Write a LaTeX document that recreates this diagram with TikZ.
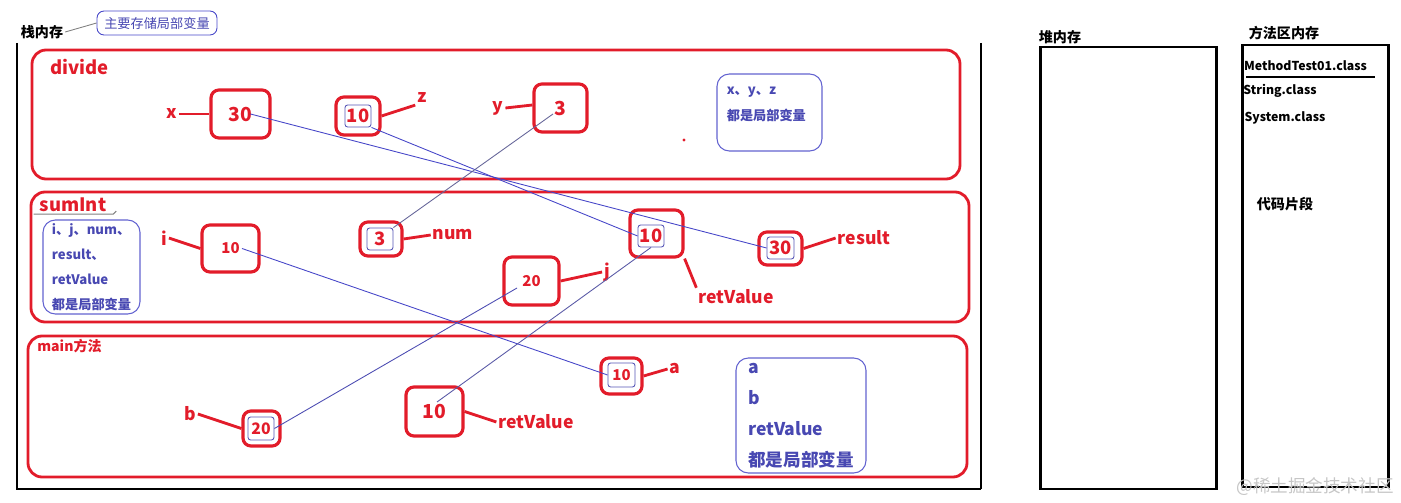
\documentclass[tikz,border=0pt]{standalone}
\usepackage{fontspec}
\setmainfont{Noto Sans CJK SC}
\usetikzlibrary{positioning}
\definecolor{memred}{RGB}{226,28,42}
\definecolor{refblue}{RGB}{70,70,200}
\definecolor{notetxt}{RGB}{72,72,178}

\begin{document}
\begin{tikzpicture}[
 x=0.02cm,y=-0.02cm,
 font=\bfseries,
 frame/.style={draw=memred,line width=1.6pt,rounded corners=8pt},
 mem/.style={draw=black,line width=1.7pt},
 cell/.style={draw=memred,line width=1.8pt,rounded corners=4.5pt,text=memred,inner sep=0pt,font=\bfseries\fontsize{11}{12}\selectfont},
 slot/.style={draw=refblue!75!gray,line width=0.5pt,rounded corners=1.5pt,inner sep=0pt,text=memred,font=\bfseries\fontsize{10.5}{12}\selectfont},
 lbl/.style={text=memred,font=\bfseries\fontsize{10}{12}\selectfont,inner sep=1pt},
 lead/.style={draw=memred,line width=1.6pt},
 ref/.style={draw=refblue,line width=0.5pt},
 vnote/.style={draw=refblue!85,line width=0.6pt,rounded corners=7pt},
 notetext/.style={text=notetxt,align=left,inner sep=0pt},
 memlbl/.style={font=\bfseries\fontsize{8}{10}\selectfont,inner sep=1pt},
 cls/.style={font=\bfseries\fontsize{7}{9}\selectfont,inner sep=1pt}
]
\useasboundingbox (0,0) rectangle (1401,503);

% stack memory
\node[memlbl] (stacklbl) at (42,32) {栈内存};
\node[draw=refblue,line width=0.5pt,rounded corners=4pt,minimum width=2.4cm,minimum height=0.44cm,text=notetxt,font=\fontsize{7.5}{9}\selectfont] (stacknote) at (157,23) {主要存储局部变量};
\draw[gray,line width=0.5pt] (stacklbl.east) -- (stacknote.west);
\draw[mem] (17,43) -- (17,489) -- (981,489);
\draw[black,line width=1.2pt] (981,43) -- (981,489);

% frames
\draw[frame] (32,50) rectangle (960,179);
\draw[frame] (31,192) rectangle (969,322);
\draw[frame] (28,336) rectangle (967,477);
\node[lbl,font=\bfseries\fontsize{10.5}{12}\selectfont] (dividelbl) at (79.5,67) {divide};
\node[lbl,font=\bfseries\fontsize{10.5}{12}\selectfont] (sumlbl) at (73,205) {sumInt};
\draw[gray,line width=0.6pt] ([xshift=-0.08cm]sumlbl.south west) -- ([xshift=0.1cm]sumlbl.south east) -- ++(0.06cm,0.06cm);
\node[lbl,font=\bfseries\fontsize{8}{10}\selectfont] (mainlbl) at (69.5,346) {main方法};

% divide
\node[cell,minimum width=1.18cm,minimum height=0.96cm] (xcell) at (240.5,114) {30};
\node[lbl] (xlbl) at (172,114) {x};
\node[cell,minimum width=0.88cm,minimum height=0.76cm] (zcell) at (358,116) {};
\node[slot,minimum width=0.52cm,minimum height=0.44cm] (zv) at (358,116) {10};
\node[lbl] (zlbl) at (422,98) {z};
\node[cell,minimum width=1.06cm,minimum height=0.96cm] (ycell) at (560.5,108) {3};
\node[lbl] (ylbl) at (498,108) {y};
\fill[memred] (684,140) circle (1.6);
\node[vnote,minimum width=2.1cm,minimum height=1.54cm] (dnote) at (769.5,112.5) {};
\node[notetext,anchor=north west,font=\bfseries\fontsize{7.5}{15}\selectfont] (dnotetxt) at ([xshift=0.2cm,yshift=-0.26cm]dnote.north west) {x、y、z\\都是局部变量};

% sumInt
\node[vnote,minimum width=1.94cm,minimum height=1.88cm,notetext,font=\bfseries\fontsize{7.5}{14.2}\selectfont] (snote) at (91.5,267) {i、j、num、\\result、\\retValue\\都是局部变量};
\node[cell,minimum width=1.14cm,minimum height=0.94cm,font=\bfseries\fontsize{8.5}{10}\selectfont] (icell) at (230.5,248.5) {10};
\node[lbl] (ilbl) at (164,238) {i};
\node[cell,minimum width=0.84cm,minimum height=0.68cm] (numcell) at (381,239) {};
\node[slot,minimum width=0.52cm,minimum height=0.44cm] (numv) at (380,239) {3};
\node[lbl] (numlbl) at (453,235) {num};
\node[cell,minimum width=1.1cm,minimum height=0.96cm,font=\bfseries\fontsize{8.5}{10}\selectfont] (jcell) at (531.5,281) {20};
\node[lbl] (jlbl) at (607,272) {j};
\node[cell,minimum width=1.06cm,minimum height=0.94cm] (retcell) at (656.5,233.5) {};
\node[slot,minimum width=0.52cm,minimum height=0.44cm] (retv) at (651,236) {10};
\node[lbl] (retlbl) at (736,297) {retValue};
\node[cell,minimum width=0.86cm,minimum height=0.66cm] (rescell) at (780.5,248.5) {};
\node[slot,minimum width=0.54cm,minimum height=0.44cm] (resv) at (780.5,248) {30};
\node[lbl] (reslbl) at (864,238) {result};

% main
\node[cell,minimum width=0.74cm,minimum height=0.7cm] (bcell) at (261.5,428.5) {};
\node[slot,minimum width=0.52cm,minimum height=0.46cm,font=\bfseries\fontsize{9}{10}\selectfont] (bv) at (261,428.5) {20};
\node[lbl] (blbl) at (190,414) {b};
\node[cell,minimum width=1.14cm,minimum height=0.98cm] (mretcell) at (434.5,411.5) {10};
\node[lbl] (mretlbl) at (536,422) {retValue};
\node[cell,minimum width=0.82cm,minimum height=0.72cm] (acell) at (621.5,376) {};
\node[slot,minimum width=0.54cm,minimum height=0.48cm,font=\bfseries\fontsize{8.5}{10}\selectfont] (av) at (621.5,375) {10};
\node[lbl] (albl) at (675,369) {a};
\node[vnote,minimum width=2.6cm,minimum height=2.3cm,notetext,font=\bfseries\fontsize{10}{17.6}\selectfont] (mnote) at (801,415.5) {a\\b\\retValue\\都是局部变量};

% leaders
\draw[lead] (xlbl.east) -- (xcell.west);
\draw[lead] (zcell.east) -- (zlbl.south west);
\draw[lead] (ylbl.east) -- ([yshift=0.06cm]ycell.west);
\draw[lead] (ilbl.east) -- (icell.west);
\draw[lead] (numcell.east) -- (numlbl.west);
\draw[lead] (jcell.east) -- (jlbl.west);
\draw[lead] (retcell.south east) -- (retlbl.north west);
\draw[lead] (rescell.east) -- (reslbl.west);
\draw[lead] (blbl.east) -- (bcell.west);
\draw[lead] (mretcell.east) -- (mretlbl.west);
\draw[lead] (acell.east) -- (albl.west);

% references between frames
\draw[ref] ([xshift=0.2cm]xcell.center) -- (resv.west);
\draw[ref] (zv.south east) -- (retv.west);
\draw[ref,draw=gray!80!blue] ([xshift=-0.15cm,yshift=-0.12cm]ycell.center) -- (numv.north east);
\draw[ref] ([xshift=0.23cm]icell.center) -- (av.west);
\draw[ref,draw=gray!60!blue] ([xshift=-0.29cm,yshift=-0.14cm]jcell.center) -- (bv.east);
\draw[ref,draw=gray!70!blue] (retv.south) -- ([xshift=0.05cm,yshift=0.19cm]mretcell.center);

% heap memory
\node[memlbl] (heaplbl) at (1060,37) {堆内存};
\draw[mem] (1040,47) rectangle (1216,489);

% method area
\node[memlbl] (methodlbl) at (1284,33) {方法区内存};
\draw[mem] (1242,45) rectangle (1388,487);
\node[cls] (cls1) at (1305.5,66) {MethodTest01.class};
\draw[black,line width=1.7pt] (1246,77) -- (1375,77);
\node[cls] (cls2) at (1280,91) {String.class};
\node[cls] (cls3) at (1285,118) {System.class};
\node[memlbl] (codelbl) at (1285,204) {代码片段};
\node[text=gray!45,font=\fontsize{10}{12}\selectfont] (mark) at (1315,487) {@稀土掘金技术社区};
\end{tikzpicture}
\end{document}
